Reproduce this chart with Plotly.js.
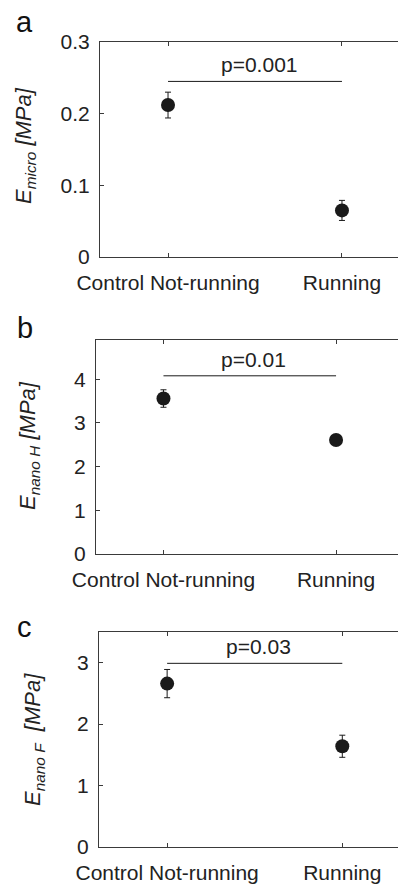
<!DOCTYPE html>
<html>
<head>
<meta charset="utf-8">
<script src="https://cdn.plot.ly/plotly-3.0.1.min.js"></script>
<style>
  html, body { margin: 0; padding: 0; background: #ffffff; overflow: hidden; }
  #chart { width: 398px; height: 884px; }
</style>
</head>
<body>
<div id="chart"></div>
<script>
// ---- data ----
const categories = ['Control Not-running', 'Running'];

const microMean = [0.212, 0.065];
const microErr = [0.018, 0.014];

const nanoHMean = [3.56, 2.61];
const nanoHErr = [0.2, 0.1];

const nanoFMean = [2.66, 1.64];
const nanoFErr = [0.23, 0.18];

const pLabels = ['p=0.001', 'p=0.01', 'p=0.03'];
const sigLevels = [0.245, 4.08, 2.99];

const yTickValsA = [0, 0.1, 0.2, 0.3];
const yTickTextA = ['0', '0.1', '0.2', '0.3'];
const yTickValsB = [0, 1, 2, 3, 4];
const yTickTextB = ['0', '1', '2', '3', '4'];
const yTickValsC = [0, 1, 2, 3];
const yTickTextC = ['0', '1', '2', '3'];

const yTitles = [
  '<i>E<sub>micro</sub> [MPa]</i>',
  '<i>E<sub>nano H</sub> [MPa]</i>',
  '<i>E<sub>nano F</sub>&nbsp;&nbsp;[MPa]</i>'
];
const panelLabels = ['a', 'b', 'c'];

// ---- styling ----
const FONT = 'Liberation Sans, Arial, Helvetica, sans-serif';
const TXT = '#222222';
const AXC = '#3a3a3a';
const W = 398, H = 884;

const panels = [
  { left: 100, top: 42, bottom: 257, xr: [-0.391, 1.322], yr: [0, 0.3],
    mean: microMean, err: microErr, tv: yTickValsA, tt: yTickTextA, titleX: 25, titleY: 146, labelY: 22 },
  { left: 96, top: 340, bottom: 554, xr: [-0.391, 1.359], yr: [0, 4.9],
    mean: nanoHMean, err: nanoHErr, tv: yTickValsB, tt: yTickTextB, titleX: 29, titleY: 446, labelY: 328 },
  { left: 99, top: 632, bottom: 847, xr: [-0.389, 1.318], yr: [0, 3.5],
    mean: nanoFMean, err: nanoFErr, tv: yTickValsC, tt: yTickTextC, titleX: 34, titleY: 740, labelY: 627 }
];

const data = [];
const layout = {
  width: W, height: H,
  margin: { l: 0, r: 0, t: 0, b: 0 },
  paper_bgcolor: '#ffffff', plot_bgcolor: '#ffffff',
  showlegend: false,
  font: { family: FONT, color: TXT, size: 20 },
  annotations: [], shapes: []
};

panels.forEach((p, i) => {
  const n = i === 0 ? '' : String(i + 1);
  const xa = 'x' + n, ya = 'y' + n;
  data.push({
    type: 'scatter', mode: 'markers',
    x: categories, y: p.mean,
    xaxis: xa, yaxis: ya,
    marker: { size: 14, color: '#1a1a1a' },
    error_y: { type: 'data', array: p.err, visible: true, color: '#1a1a1a', thickness: 1, width: 3 },
    hoverinfo: 'x+y'
  });
  data.push({
    type: 'scatter', mode: 'lines',
    x: categories, y: [sigLevels[i], sigLevels[i]],
    xaxis: xa, yaxis: ya,
    line: { color: '#1a1a1a', width: 1 },
    hoverinfo: 'skip'
  });

  layout['xaxis' + n] = {
    anchor: ya, type: 'category',
    domain: [p.left / W, 1],
    range: p.xr,
    showline: true, linecolor: AXC, linewidth: 1, mirror: 'ticks',
    ticks: 'inside', ticklen: 4, tickcolor: AXC,
    showgrid: false, zeroline: false,
    tickfont: { size: 21, color: TXT, family: FONT },
    ticklabelstandoff: 7,
    fixedrange: true
  };
  layout['yaxis' + n] = {
    anchor: xa,
    domain: [1 - p.bottom / H, 1 - p.top / H],
    range: p.yr,
    showline: true, linecolor: AXC, linewidth: 1, mirror: false,
    ticks: 'inside', ticklen: 4, tickcolor: AXC,
    tickvals: p.tv, ticktext: p.tt,
    showgrid: false, zeroline: false,
    tickfont: { size: 21, color: TXT, family: FONT },
    ticklabelstandoff: 5,
    fixedrange: true
  };

  layout.annotations.push({
    xref: xa, yref: ya, x: 0.5, y: sigLevels[i],
    text: pLabels[i], showarrow: false,
    xanchor: 'center', yanchor: 'bottom', xshift: 4, yshift: 3,
    font: { size: 21, color: TXT, family: FONT }
  });
  layout.annotations.push({
    xref: 'paper', yref: 'paper',
    x: p.titleX / W, y: 1 - p.titleY / H,
    text: yTitles[i], showarrow: false, textangle: -90,
    xanchor: 'center', yanchor: 'middle',
    font: { size: 22, color: TXT, family: FONT }
  });
  layout.annotations.push({
    xref: 'paper', yref: 'paper',
    x: 25 / W, y: 1 - p.labelY / H,
    text: panelLabels[i], showarrow: false,
    xanchor: 'center', yanchor: 'middle',
    font: { size: 29, color: '#111111', family: FONT }
  });
});

Plotly.newPlot('chart', data, layout, { displayModeBar: false });
</script>
</body>
</html>
